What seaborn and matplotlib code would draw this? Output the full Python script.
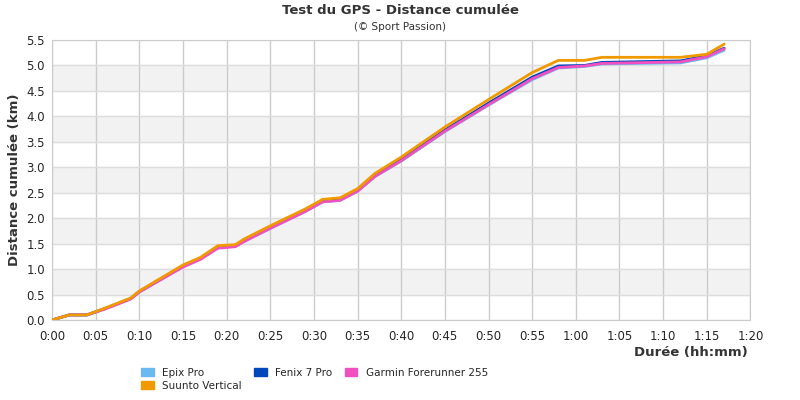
import matplotlib
matplotlib.use("Agg")
import matplotlib.pyplot as plt
import seaborn as sns
import pandas as pd
from matplotlib.patches import Patch

minutes = [0, 2, 4, 6, 9, 10, 15, 17, 19, 21, 22, 25, 29, 31, 33, 35, 37, 40, 45, 50, 55, 58, 61, 63, 72, 75, 77]
epix = [0, 0.1, 0.1, 0.22, 0.42, 0.55, 1.05, 1.2, 1.42, 1.45, 1.55, 1.8, 2.13, 2.32, 2.35, 2.53, 2.82, 3.12, 3.7, 4.22, 4.72, 4.95, 4.98, 5.03, 5.05, 5.15, 5.3]
fenix = [0, 0.1, 0.1, 0.22, 0.42, 0.56, 1.06, 1.21, 1.43, 1.46, 1.56, 1.82, 2.15, 2.34, 2.37, 2.55, 2.85, 3.15, 3.73, 4.26, 4.77, 4.99, 5.0, 5.06, 5.09, 5.19, 5.34]
garmin = [0, 0.1, 0.1, 0.21, 0.41, 0.55, 1.04, 1.19, 1.41, 1.44, 1.54, 1.8, 2.13, 2.32, 2.35, 2.53, 2.82, 3.13, 3.71, 4.23, 4.74, 4.96, 4.99, 5.04, 5.07, 5.17, 5.33]
suunto = [0, 0.1, 0.1, 0.23, 0.43, 0.57, 1.08, 1.23, 1.46, 1.48, 1.59, 1.85, 2.18, 2.37, 2.4, 2.58, 2.88, 3.2, 3.79, 4.33, 4.86, 5.1, 5.1, 5.16, 5.16, 5.22, 5.42]
names = ["Epix Pro", "Fenix 7 Pro", "Garmin Forerunner 255", "Suunto Vertical"]
colors = ["#6cb8f0", "#0047bb", "#f050c0", "#f09a00"]
xticklabels = ["0:00","0:05","0:10","0:15","0:20","0:25","0:30","0:35","0:40","0:45","0:50","0:55",
               "1:00","1:05","1:10","1:15","1:20"]

rows = []
for n, vals in zip(names, [epix, fenix, garmin, suunto]):
    for m, v in zip(minutes, vals):
        rows.append({"min": m, "km": v, "device": n})
df = pd.DataFrame(rows)

sns.set_style("white")
fig = plt.figure(figsize=(8, 4), dpi=100)
ax = fig.add_axes([0.065, 0.2, 0.873, 0.7])
for lo in [0.5, 1.5, 2.5, 3.5, 4.5]:
    ax.axhspan(lo, lo + 0.5, color="#f2f2f2", zorder=0)
sns.lineplot(data=df, x="min", y="km", hue="device", hue_order=names, palette=colors,
             linewidth=2, legend=False, ax=ax, zorder=3)
ax.set_xlim(0, 80)
ax.set_ylim(0, 5.5)
ax.set_xticks(range(0, 81, 5))
ax.set_xticklabels(xticklabels, fontsize=8.5)
ax.set_yticks([i * 0.5 for i in range(12)])
ax.set_yticklabels([f"{i*0.5:.1f}" for i in range(12)], fontsize=8.5)
for y in [i * 0.5 for i in range(12)]:
    ax.axhline(y, color="#dddddd", lw=1, zorder=1)
ax.grid(axis="x", color="#cccccc", lw=1)
ax.set_axisbelow(True)
for s in ax.spines.values():
    s.set_color("#cccccc")
ax.tick_params(length=0)
ax.tick_params(axis="x", pad=7)
ax.tick_params(axis="y", pad=5)
ax.set_xlabel("")
ax.set_ylabel("Distance cumulée (km)", fontsize=9.5, fontweight="bold", color="#333333")
fig.text(0.935, 0.11, "Durée (hh:mm)", ha="right", fontsize=9.5, fontweight="bold", color="#333333")
fig.text(0.5, 0.965, "Test du GPS - Distance cumulée", ha="center", fontsize=9.5, fontweight="bold", color="#333333")
fig.text(0.5, 0.925, "(© Sport Passion)", ha="center", fontsize=7.5, color="#333333")
handles = [Patch(facecolor=c, edgecolor=c) for c in colors]
leg_order = [0, 3, 1, 2]
fig.legend([handles[i] for i in leg_order], [names[i] for i in leg_order], ncol=3,
           loc="lower left", bbox_to_anchor=(0.165, 0.0), frameon=False, fontsize=7.5,
           handlelength=1.2, handleheight=0.8, columnspacing=1.2, labelspacing=0.3)
fig.savefig("out.png", dpi=100)
